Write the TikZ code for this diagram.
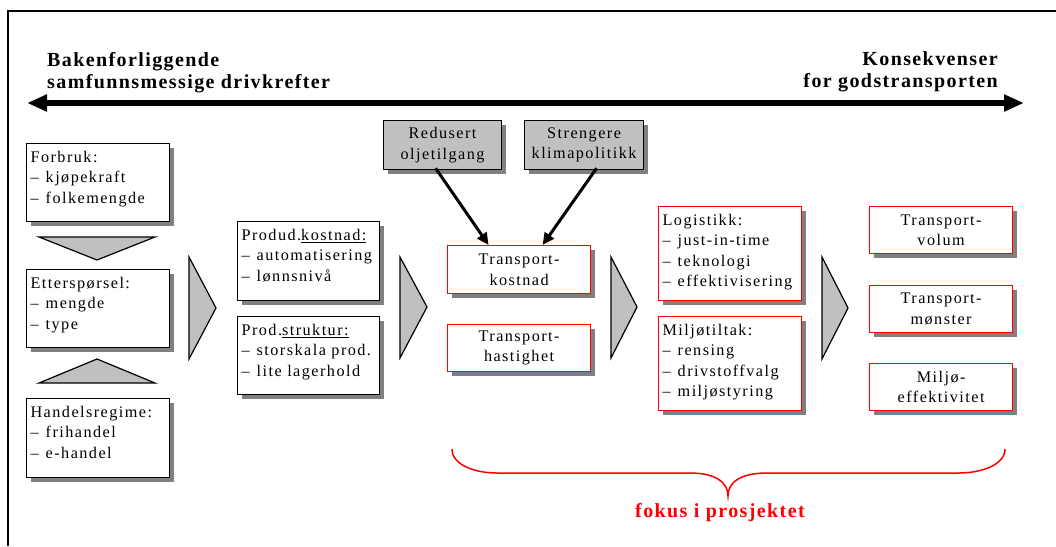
\documentclass[tikz,border=0pt]{standalone}
\usepackage{fontspec}
\setmainfont{Liberation Serif}
\newfontfamily\bodyf[LetterSpace=9]{Liberation Serif}
\newfontfamily\titlef[LetterSpace=7]{Liberation Serif}
\usetikzlibrary{arrows.meta,shadows,calc}
\definecolor{boxgray}{HTML}{C0C0C0}
\definecolor{shadowgray}{HTML}{808080}
\definecolor{myred}{HTML}{FF0000}
\newcommand{\lbox}[3]{\parbox[c][#1][t]{#2}{\raggedright\rule{0pt}{18.5pt}#3}}
\newcommand{\dsh}[1]{\mbox{–\hspace{7pt}#1}}
\tikzset{
  bx/.style={draw=black, line width=1.2pt, fill=white, inner xsep=4pt, inner ysep=0pt,
    anchor=north west, font=\fontsize{16.2}{20.5}\selectfont\bodyf,
    drop shadow={shadow xshift=4pt, shadow yshift=-4pt, fill=shadowgray, opacity=1}},
  rbx/.style={bx, draw=myred},
  gbx/.style={bx, fill=boxgray},
  cbx/.style={align=center, minimum width=143pt, minimum height=48pt, inner xsep=0pt},
  tri/.style={draw=black, line width=1.2pt, fill=boxgray, line join=miter},
  conn/.style={line width=3pt, -{Triangle[length=12pt,width=11pt]}},
  titletxt/.style={font=\fontsize{20}{21.5}\selectfont\titlef\bfseries, inner sep=0pt}
}
\begin{document}
\begin{tikzpicture}[x=1pt,y=-1pt]
\useasboundingbox (0,0) rectangle (1056,546);
% frame
\draw[line width=1.5pt] (8,546) -- (8,11) -- (1056,11);
% titles
\node[titletxt, anchor=base west, align=left] (tleft) at (47,88) {Bakenforliggende\\samfunnsmessige drivkrefter};
\node[titletxt, anchor=base east, align=right] (tright) at (998,87) {Konsekvenser\\for godstransporten};
% double arrow
\coordinate (la) at (27,103);
\coordinate (ra) at (1024,103);
\draw[line width=6pt, {Triangle[length=20pt,width=16pt]}-{Triangle[length=20pt,width=16pt]}] (la) -- (ra);
% column 1
\node[bx] (forbruk) at (26,143) {\lbox{78pt}{135pt}{Forbruk:\\\dsh{kjøpekraft}\\\dsh{folkemengde}}};
\node[bx] (etter) at (26,269) {\lbox{78pt}{135pt}{Etterspørsel:\\\dsh{mengde}\\\dsh{type}}};
\node[bx] (handel) at (26,398) {\lbox{79pt}{135pt}{Handelsregime:\\\dsh{frihandel}\\\dsh{e-handel}}};
\draw[tri] (39,237) -- (155,237) -- (97,260) -- cycle;
\draw[tri] (39,383) -- (155,383) -- (97,359) -- cycle;
% column 2
\node[bx] (kost) at (237,221) {\lbox{79pt}{134pt}{Produd.\underline{kostnad:}\\\dsh{automatisering}\\\dsh{lønnsnivå}}};
\node[bx] (strukt) at (237,316) {\lbox{78pt}{134pt}{Prod.\underline{struktur:}\\\dsh{storskala prod.}\\\dsh{lite lagerhold}}};
% column 3
\node[gbx, cbx, minimum width=118pt, minimum height=49pt] (olje) at (383,120) {Redusert\\oljetilgang};
\node[gbx, cbx, minimum width=119pt, minimum height=49pt] (klima) at (524,120) {Strengere\\klimapolitikk};
\node[rbx, cbx] (tkost) at (447,245) {Transport-\\kostnad};
\node[rbx, cbx, minimum height=47pt] (thast) at (447,324) {Transport-\\hastighet};
\draw[conn] ($(olje.south)+(-7,-2)$) -- ($(tkost.north)+(-30.5,0)$);
\draw[conn] ($(klima.south)+(12.5,-2)$) -- ($(tkost.north)+(23.5,0)$);
% column 4
\node[rbx] (logist) at (658,206) {\lbox{94pt}{135pt}{Logistikk:\\\dsh{just-in-time}\\\dsh{teknologi}\\\dsh{effektivisering}}};
\node[rbx] (miljo) at (658,316) {\lbox{94pt}{135pt}{Miljøtiltak:\\\dsh{rensing}\\\dsh{drivstoffvalg}\\\dsh{miljøstyring}}};
% column 5
\node[rbx, cbx, minimum height=47pt] (tvol) at (869,206) {Transport-\\volum};
\node[rbx, cbx, minimum height=47pt] (tmon) at (869,285) {Transport-\\mønster};
\node[rbx, cbx, minimum height=47pt] (meff) at (869,363) {Miljø-\\effektivitet};
% big arrows between columns
\draw[tri] (189,257) -- (189,359) -- (216,308) -- cycle;
\draw[tri] (400,257) -- (400,358) -- (427,307) -- cycle;
\draw[tri] (611,257) -- (611,358) -- (637,307) -- cycle;
\draw[tri] (822,257) -- (822,359) -- (848,308) -- cycle;
% brace
\draw[myred, line width=1.5pt] (452,449) .. controls (452,465) and (475,473) .. (497,473) -- (690,473)
  .. controls (715,473) and (728,482) .. (728,496)
  .. controls (728,482) and (741,473) .. (767,473) -- (959,473)
  .. controls (981,473) and (1005,465) .. (1005,449);
\node[titletxt, text=myred, anchor=base] (fokus) at (720,517) {fokus i prosjektet};
\end{tikzpicture}
\end{document}
